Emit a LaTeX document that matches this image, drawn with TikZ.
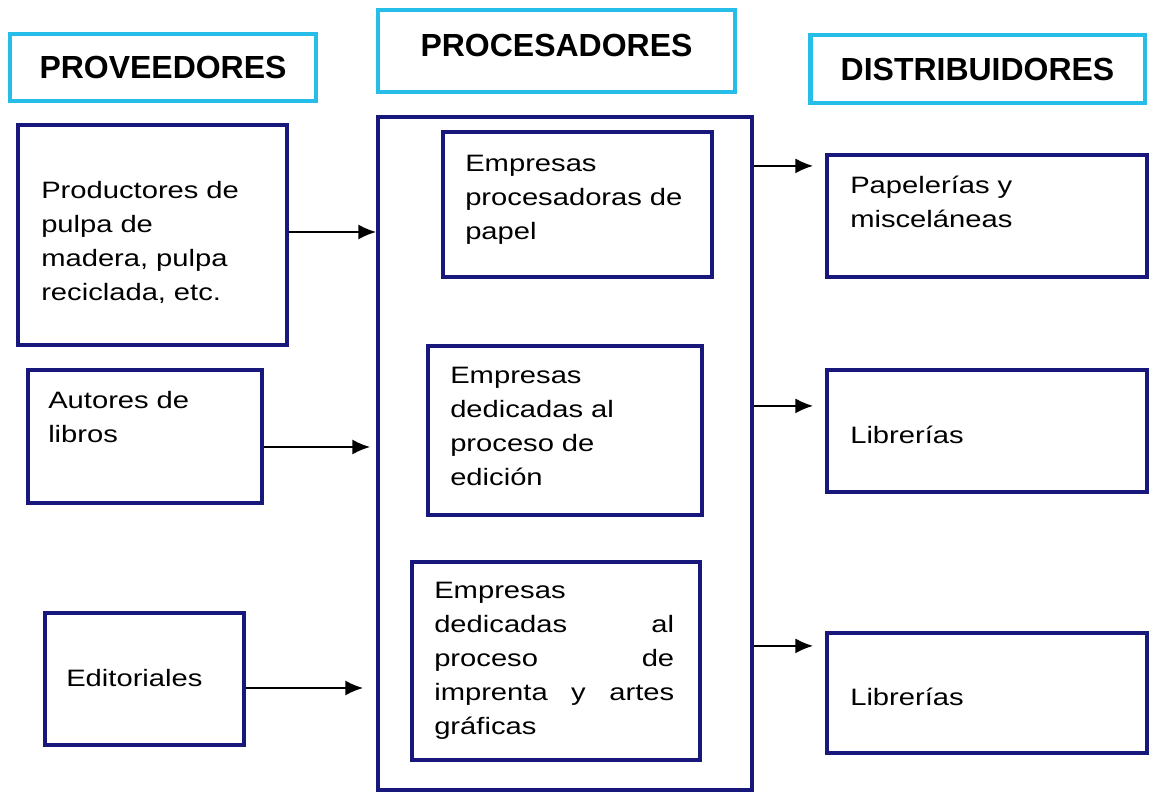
\documentclass[tikz,border=0pt]{standalone}
\usepackage{fontspec}
\setmainfont{Liberation Sans}
\newfontfamily\bodyfam[FakeStretch=1.23]{Liberation Sans}
\newcommand{\headfont}{\fontsize{18.2pt}{21pt}\selectfont\bfseries}
\newcommand{\bodyfont}{\bodyfam\fontsize{13.5pt}{19.3pt}\selectfont}
\usepackage{xcolor}
\usepackage{tikz}
\usetikzlibrary{calc, arrows.meta, positioning}
\definecolor{headcyan}{RGB}{38,190,232}
\definecolor{boxnavy}{RGB}{24,24,124}
\tikzset{
    headnode/.style = {draw=headcyan, line width=2.8pt, rectangle, inner sep=0em, font=\headfont},
    boxnode/.style = {draw=boxnavy, line width=2.4pt, rectangle, inner sep=0em},
    textnode/.style = {draw=none, fill=none, rectangle, inner sep=0em, anchor=base west,
      align=left, font=\bodyfont},
    connect/.style = {black, line width=0.8pt, -{Latex[length=10pt,width=8.5pt]}}
}

\begin{document}
\begin{tikzpicture}[x=0.02cm, y=-0.02cm]
\useasboundingbox (0,0) rectangle (1157,793);

% titulos
\node[headnode, name=hprov, minimum width=6.12cm, minimum height=1.34cm] at (163,67.5) {PROVEEDORES};
\node[headnode, name=hproc, minimum width=7.14cm, minimum height=1.64cm, text depth=6.8pt] at (556.5,51) {PROCESADORES};
\node[headnode, name=hdist, minimum width=6.7cm, minimum height=1.36cm] at (977.5,69) {DISTRIBUIDORES};

% proveedores
\node[boxnode, name=pv1, minimum width=5.38cm, minimum height=4.4cm] at (152.5,235) {};
\node[boxnode, name=pv2, minimum width=4.68cm, minimum height=2.66cm] at (145,436.5) {};
\node[boxnode, name=pv3, minimum width=3.98cm, minimum height=2.64cm] at (144.5,679) {};
\node[textnode, name=pv1t, text width=4.8cm] at ($(pv1.north west)+(25,76)$)
	{Productores de\\ pulpa de\\ madera, pulpa\\ reciclada, etc.};
\node[textnode, name=pv2t, text width=4.2cm] at ($(pv2.north west)+(22,41)$) {Autores de\\ libros};
\node[textnode, name=pv3t, text width=3.5cm] at ($(pv3.north west)+(23,76)$) {Editoriales};

% procesadores
\node[boxnode, name=proc, minimum width=7.48cm, minimum height=13.46cm] at (565,453.5) {};
\node[boxnode, name=pr1, minimum width=5.38cm, minimum height=2.9cm] at (577.5,204.5) {};
\node[boxnode, name=pr2, minimum width=5.48cm, minimum height=3.38cm] at (565,430.5) {};
\node[boxnode, name=pr3, minimum width=5.76cm, minimum height=3.96cm] at (556,661) {};
\node[textnode, name=pr1t, text width=4.9cm] at ($(pr1.north west)+(24,42)$)
	{Empresas\\ procesadoras de\\ papel};
\node[textnode, name=pr2t, text width=4.9cm] at ($(pr2.north west)+(24,40)$)
	{Empresas\\ dedicadas al\\ proceso de\\ edición};
\node[textnode, name=pr3t, text width=4.8cm] at ($(pr3.north west)+(24,39)$)
	{Empresas\\ dedicadas\hfill al\\ proceso\hfill de\\ imprenta\hfill y\hfill artes\\ gráficas};

% distribuidores
\node[boxnode, name=ds1, minimum width=6.4cm, minimum height=2.44cm] at (987,216) {};
\node[boxnode, name=ds2, minimum width=6.4cm, minimum height=2.44cm] at (987,431) {};
\node[boxnode, name=ds3, minimum width=6.4cm, minimum height=2.4cm] at (987,693) {};
\node[textnode, name=ds1t, text width=5.8cm] at ($(ds1.north west)+(25,41)$)
	{Papelerías y\\ misceláneas};
\node[textnode, name=ds2t, text width=5.8cm] at ($(ds2.north west)+(25,76)$) {Librerías};
\node[textnode, name=ds3t, text width=5.8cm] at ($(ds3.north west)+(25,75)$) {Librerías};

% flechas
\coordinate (e2) at ($(pv2.east)+(0,10.5)$);
\coordinate (e3) at ($(pv3.east)+(0,9)$);
\draw[connect] (pv1.east |- 0,232) -- (proc.west |- 0,232);
\draw[connect] (e2) -- ($(proc.west |- e2)+(-6,0)$);
\draw[connect] (e3) -- ($(proc.west |- e3)+(-13,0)$);

\coordinate (d1) at ($(ds1.north west)+(-12,13)$);
\coordinate (d2) at ($(ds2.north west)+(-12,38)$);
\coordinate (d3) at ($(ds3.north west)+(-12,15)$);
\draw[connect] (proc.east |- d1) -- (d1);
\draw[connect] (proc.east |- d2) -- (d2);
\draw[connect] (proc.east |- d3) -- (d3);
\end{tikzpicture}
\end{document}
